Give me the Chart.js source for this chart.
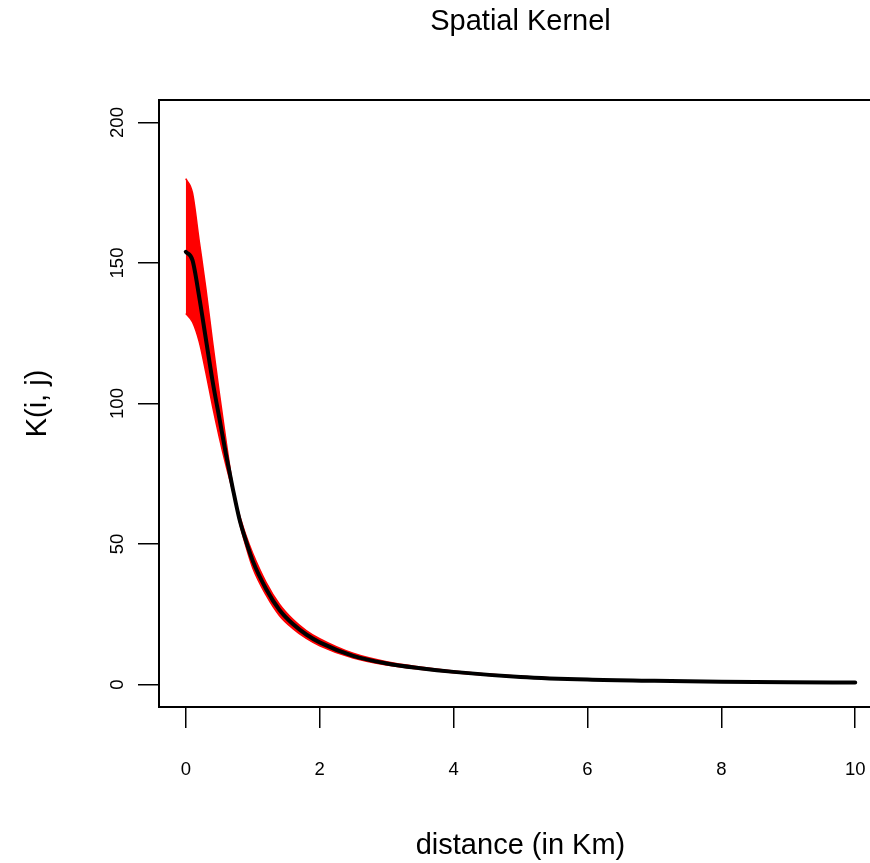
<!DOCTYPE html>
<html>
<head>
<meta charset="utf-8">
<title>Spatial Kernel</title>
<script src="https://cdn.jsdelivr.net/npm/chart.js@4.4.1/dist/chart.umd.min.js"></script>
<style>
  html, body { margin: 0; padding: 0; background: #fff; overflow: hidden; }
  #wrap { position: relative; width: 920px; height: 863px; }
</style>
</head>
<body>
<div id="wrap"><canvas id="kernelChart"></canvas></div>
<script>
// distancias (km) donde se evalua el kernel
const distances = [0, 0.1, 0.2, 0.3, 0.4, 0.5, 0.6, 0.7, 0.8, 0.9, 1, 1.2, 1.4, 1.6, 1.8, 2, 2.5, 3, 3.5, 4, 5, 6, 7, 8, 9, 10];

// curva media (negra)
const kernelMean = [154, 151, 138, 123, 108, 95, 82, 70, 59, 51, 44, 34, 26.5, 21.5, 17.8, 15, 10.2, 7.5, 5.8, 4.5, 2.7, 1.75, 1.3, 1.0, 0.82, 0.7];

// muestras extremas (rojas): la que arranca arriba y la que arranca abajo
const kernelHigh = [180, 175, 158, 141, 122, 104, 87, 71, 58, 49, 41.5, 31.8, 24.5, 19.9, 16.4, 13.8, 9.4, 6.95, 5.4, 4.2, 2.53, 1.66, 1.24, 0.96, 0.79, 0.68];
const kernelLow = [132, 129, 122, 111, 99, 88, 78, 69, 60.5, 53, 46.7, 36.4, 28.6, 23.2, 19.2, 16.3, 11.1, 8.1, 6.25, 4.85, 2.9, 1.85, 1.37, 1.05, 0.85, 0.72];

const xTicks = [0, 2, 4, 6, 8, 10];
const yTicks = [0, 50, 100, 150, 200];

const FONT = "'Liberation Sans', Arial, Helvetica, sans-serif";

function toPoints(values) {
  return distances.map((d, i) => ({ x: d, y: values[i] }));
}

// marco completo alrededor del area del grafico (estilo R)
const plotBox = {
  id: 'plotBox',
  afterDraw(chart) {
    const { ctx, chartArea: a } = chart;
    ctx.save();
    ctx.strokeStyle = '#000';
    ctx.lineWidth = 2;
    ctx.strokeRect(a.left, a.top, a.right - a.left, a.bottom - a.top);
    ctx.restore();
  }
};

const chart = new Chart(document.getElementById('kernelChart'), {
  type: 'line',
  data: {
    datasets: [
      {
        label: 'low',
        data: toPoints(kernelLow),
        borderColor: '#ff0000',
        borderWidth: 1.5,
        pointRadius: 0,
        cubicInterpolationMode: 'monotone',
        fill: false,
        order: 2
      },
      {
        label: 'high',
        data: toPoints(kernelHigh),
        borderColor: '#ff0000',
        backgroundColor: '#ff0000',
        borderWidth: 1.5,
        pointRadius: 0,
        cubicInterpolationMode: 'monotone',
        fill: '-1',
        order: 1
      },
      {
        label: 'mean',
        data: toPoints(kernelMean),
        borderColor: '#000000',
        borderWidth: 4,
        borderCapStyle: 'round',
        borderJoinStyle: 'round',
        pointRadius: 0,
        cubicInterpolationMode: 'monotone',
        fill: false,
        order: 0
      }
    ]
  },
  options: {
    responsive: true,
    maintainAspectRatio: false,
    animation: false,
    layout: { padding: { left: 0, right: 38, top: 0, bottom: 0 } },
    plugins: {
      legend: { display: false },
      tooltip: { enabled: false },
      title: {
        display: true,
        text: 'Spatial Kernel',
        fullSize: false,
        color: '#000',
        font: { family: FONT, size: 29, weight: 'normal' },
        padding: { top: 4.6, bottom: 60.6 }
      }
    },
    scales: {
      x: {
        type: 'linear',
        min: -0.4,
        max: 10.4,
        afterBuildTicks: s => { s.ticks = xTicks.map(v => ({ value: v })); },
        afterFit: s => { s.height = 156; },
        border: { display: false },
        grid: {
          drawOnChartArea: false,
          drawTicks: true,
          tickLength: 21,
          color: '#000',
          lineWidth: 1.5
        },
        ticks: {
          autoSkip: false,
          maxRotation: 0,
          color: '#000',
          padding: 30.9,
          font: { family: FONT, size: 18.5 }
        },
        title: {
          display: true,
          text: 'distance (in Km)',
          color: '#000',
          font: { family: FONT, size: 29 },
          padding: { top: 0, bottom: 0 }
        }
      },
      y: {
        type: 'linear',
        min: -8,
        max: 208,
        afterBuildTicks: s => { s.ticks = yTicks.map(v => ({ value: v })); },
        afterFit: s => { s.width = 159; },
        border: { display: false },
        grid: {
          drawOnChartArea: false,
          drawTicks: true,
          tickLength: 21,
          color: '#000',
          lineWidth: 1.5
        },
        ticks: {
          autoSkip: false,
          minRotation: 90,
          maxRotation: 90,
          crossAlign: 'center',
          color: '#000',
          padding: 4.6,
          font: { family: FONT, size: 18.5 }
        },
        title: {
          display: true,
          text: 'K(i, j)',
          color: '#000',
          font: { family: FONT, size: 29 },
          padding: { top: 20.6, bottom: 0 }
        }
      }
    }
  },
  plugins: [plotBox]
});
</script>
</body>
</html>
